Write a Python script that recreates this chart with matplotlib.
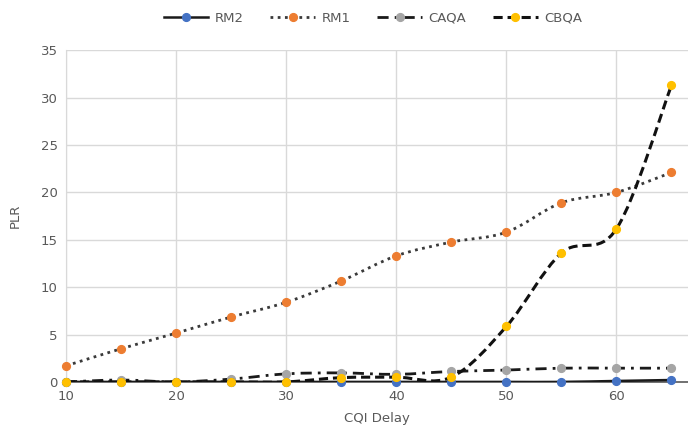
import numpy as np
import matplotlib
matplotlib.use("Agg")
import matplotlib.pyplot as plt
from matplotlib.path import Path
from matplotlib.patches import PathPatch
from matplotlib.lines import Line2D

# data
cqi_delay = [10, 15, 20, 25, 30, 35, 40, 45, 50, 55, 60, 65]
rm2 = [0.0, 0.0, 0.0, 0.0, 0.0, 0.0, 0.0, 0.0, 0.0, 0.0, 0.1, 0.2]
rm1 = [1.7, 3.5, 5.15, 6.85, 8.4, 10.65, 13.3, 14.75, 15.8, 18.9, 20.0, 22.1]
caqa = [0.0, 0.2, 0.0, 0.3, 0.85, 0.95, 0.8, 1.1, 1.25, 1.45, 1.45, 1.45]
cbqa = [0.0, 0.0, 0.0, 0.0, 0.0, 0.45, 0.5, 0.5, 5.85, 13.6, 16.15, 31.3]

series_names = ["RM2", "RM1", "CAQA", "CBQA"]
x_ticks = [10, 20, 30, 40, 50, 60]
y_ticks = [0, 5, 10, 15, 20, 25, 30, 35]


def smooth_path(xs, ys):
    """Excel-like smoothed line: Catmull-Rom turned into cubic Bezier segments."""
    pts = np.column_stack([xs, ys]).astype(float)
    verts = [pts[0]]
    codes = [Path.MOVETO]
    n = len(pts)
    for i in range(n - 1):
        p0 = pts[max(i - 1, 0)]
        p1 = pts[i]
        p2 = pts[i + 1]
        p3 = pts[min(i + 2, n - 1)]
        c1 = p1 + (p2 - p0) / 6.0
        c2 = p2 - (p3 - p1) / 6.0
        verts += [c1, c2, p2]
        codes += [Path.CURVE4] * 3
    return Path(verts, codes)


fig = plt.figure(figsize=(6.88, 4.33), dpi=100)
ax = fig.add_axes([0.096, 0.118, 0.904, 0.766])

styles = {
    "RM2": dict(ls="-", lw=1.8, color="#1a1a1a", mc="#4472C4"),
    "RM1": dict(ls=(0, (1, 1.6)), lw=2.0, color="#3a3a3a", mc="#ED7D31"),
    "CAQA": dict(ls=(0, (4, 2.2, 1, 2.2)), lw=2.0, color="#1a1a1a", mc="#A5A5A5"),
    "CBQA": dict(ls=(0, (3, 1.6)), lw=2.2, color="#111111", mc="#FFC000"),
}
data = {"RM2": rm2, "RM1": rm1, "CAQA": caqa, "CBQA": cbqa}

z = 3
for name in ["CAQA", "RM1", "RM2", "CBQA"]:
    st = styles[name]
    patch = PathPatch(smooth_path(cqi_delay, data[name]), facecolor="none",
                      edgecolor=st["color"], lw=st["lw"], linestyle=st["ls"],
                      zorder=z, capstyle="butt")
    ax.add_patch(patch)
    ax.plot(cqi_delay, data[name], ls="none", marker="o", ms=5.6,
            mfc=st["mc"], mec=st["mc"], zorder=z + 0.5, clip_on=False)
    z += 1

handles = []
for name in series_names:
    st = styles[name]
    handles.append(Line2D([], [], color=st["color"], lw=st["lw"], ls=st["ls"],
                          marker="o", ms=5.6, mfc=st["mc"], mec=st["mc"]))

ax.set_xlim(10, 66.5)
ax.set_ylim(0, 35)
ax.set_xticks(x_ticks)
ax.set_yticks(y_ticks)
ax.grid(True, color="#d9d9d9", lw=1)
ax.set_axisbelow(True)
for side in ["top", "right"]:
    ax.spines[side].set_visible(False)
ax.spines["left"].set_color("#d9d9d9")
ax.spines["bottom"].set_color("#595959")
ax.spines["bottom"].set_linewidth(1.2)
ax.spines["bottom"].set_zorder(2.5)
ax.tick_params(length=0, labelsize=9.5, labelcolor="#595959", pad=6)

ax.set_xlabel("CQI Delay", fontsize=9.5, color="#595959", labelpad=6)
ax.set_ylabel("PLR", fontsize=9.5, color="#595959", labelpad=14)

ax.legend(handles, series_names, loc="center", bbox_to_anchor=(0.542, 0.958),
          bbox_transform=fig.transFigure, ncol=4, frameon=False,
          fontsize=9.5, labelcolor="#595959", handlelength=3.4,
          columnspacing=2.0, handletextpad=0.5)

fig.savefig("out.png", dpi=100)
